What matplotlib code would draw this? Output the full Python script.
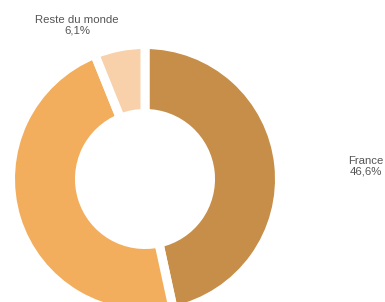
import matplotlib.pyplot as plt

labels = ['France', 'Autres', 'Reste du monde']
shares = [46.6, 47.3, 6.1]
colors = ['#C68E48', '#F2AE5C', '#F8D0A9']
shown = ['France\n46,6%', None, 'Reste du monde\n6,1%']

plt.rcParams['font.family'] = ['Liberation Sans', 'DejaVu Sans']

fig = plt.figure(figsize=(3.85, 3.02), dpi=100)
ax = fig.add_axes([0, 0, 1, 1])

cx, cy, r = 145, 123, 134.5
wedges, _ = ax.pie(shares, colors=colors, startangle=90, counterclock=False,
                   center=(cx, cy), radius=r, explode=[0, 0, 0.03],
                   wedgeprops=dict(width=69, edgecolor='white', linewidth=6.5),
                   frame=True)
ax.set_xlim(0, 385)
ax.set_ylim(0, 302)
ax.set_aspect('equal')
ax.axis('off')

ax.text(366, 136, shown[0], ha='center', va='center', fontsize=8.2, color='#555555', linespacing=1.05)
ax.text(77, 277, shown[2], ha='center', va='center', fontsize=8.2, color='#555555', linespacing=1.05)

fig.savefig('out.png', dpi=100)
